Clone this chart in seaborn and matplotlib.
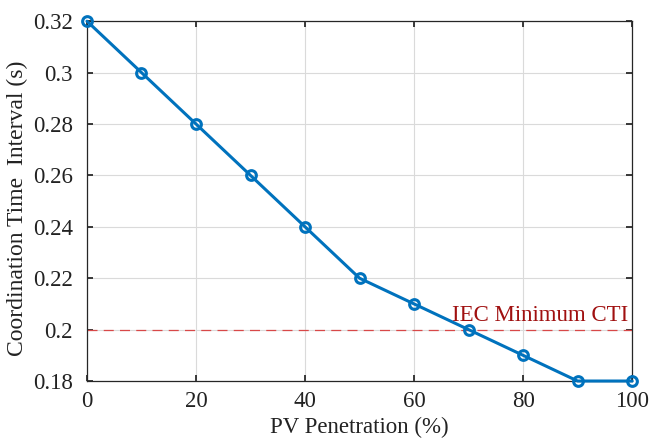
import matplotlib
matplotlib.use("Agg")
import matplotlib.pyplot as plt
import seaborn as sns
import pandas as pd

# Data
pv_penetration = [0, 10, 20, 30, 40, 50, 60, 70, 80, 90, 100]
cti = [0.32, 0.30, 0.28, 0.26, 0.24, 0.22, 0.21, 0.20, 0.19, 0.18, 0.18]
iec_min_cti = 0.2
x_ticks = [0, 20, 40, 60, 80, 100]
y_ticks = [0.18, 0.2, 0.22, 0.24, 0.26, 0.28, 0.3, 0.32]
y_tick_labels = ["0.18", "0.2", "0.22", "0.24", "0.26", "0.28", "0.3", "0.32"]

df = pd.DataFrame({"PV": pv_penetration, "CTI": cti})

sns.set_theme(style="whitegrid")
plt.rcParams['font.family'] = ['Liberation Serif', 'DejaVu Serif']

fig = plt.figure(figsize=(6.49, 4.41), dpi=100)
ax = fig.add_axes([0.134, 0.136, 0.840, 0.816])

sns.lineplot(data=df, x="PV", y="CTI", ax=ax, color="#0072BD", linewidth=2.2,
             marker="o", markersize=7, markerfacecolor="none",
             markeredgecolor="#0072BD", markeredgewidth=2.2, zorder=3,
             clip_on=False)

ax.axhline(iec_min_cti, color="#D84848", linestyle=(0, (8, 5)), linewidth=0.9, zorder=2)
ax.text(67, 0.2015, "IEC Minimum CTI", color="#A01010", fontsize=16.5,
        ha="left", va="bottom")

ax.set_xlim(0, 100)
ax.set_ylim(0.18, 0.32)
ax.set_xticks(x_ticks)
ax.set_yticks(y_ticks)
ax.set_yticklabels(y_tick_labels)
ax.tick_params(labelsize=16.5, colors="#222222", direction="in", length=4,
               left=True, bottom=True, right=True, top=True)
ax.tick_params(axis="y", pad=10)
ax.tick_params(axis="x", pad=7)
ax.set_xlabel("PV Penetration (%)", fontsize=16.5, color="#222222", labelpad=4)
ax.set_ylabel("Coordination Time  Interval (s)", fontsize=17, color="#222222")
ax.yaxis.set_label_coords(-0.108, 0.48)

ax.grid(True, color="#DADADA", linewidth=0.8)
for s in ax.spines.values():
    s.set_visible(True)
    s.set_color("#262626")
    s.set_linewidth(0.9)

fig.savefig("out.png", dpi=100)
